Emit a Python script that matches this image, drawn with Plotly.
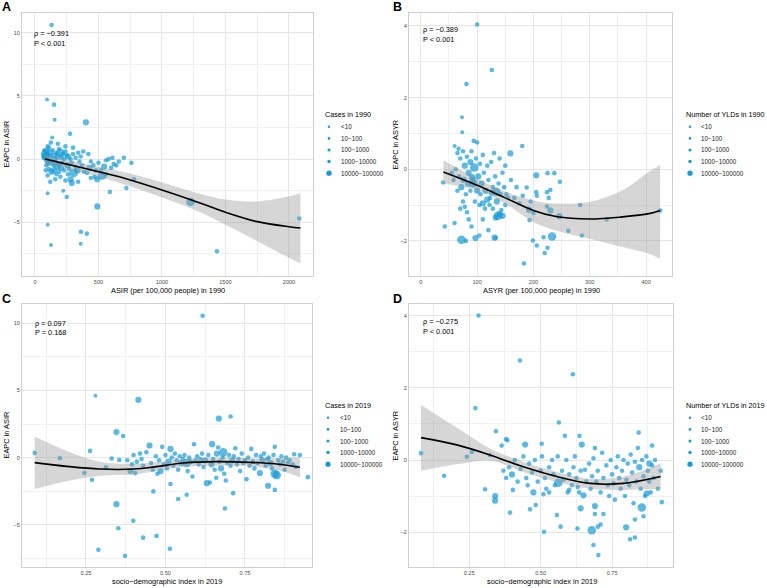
import plotly.graph_objects as go

W, H = 767, 588
PT = "#159BD5"
FONT = "Liberation Sans, Arial, sans-serif"

# ---------------- Panel A: ASIR 1990 vs EAPC ----------------
a_x = [131,95,150,155,401,136,276,
       80,85,90,100,110,120,130,140,150,160,170,180,190,200,210,220,230,240,250,260,280,300,320,340,360,380,300,240,180,125,100,75,70,
       95,110,125,145,160,175,190,205,215,230,255,270,290,305,320,335,350,370,385,110,130,150,170,190,160,200,260,280,290,340,90,100,85,120,240,
       420,440,430,460,480,490,470,500,520,530,545,560,580,600,610,620,640,660,700,760,780,720,590,410,440,560,
       100,100,126,362,360,409,491,250,223,1225,1433,2081]
a_y = [10.6,4.7,4.3,3.1,2.9,1.7,2.0,
       0.4,0.2,0.6,0.3,0.9,0.5,0.1,0.7,0.3,0.0,0.5,0.2,0.8,0.5,0.1,0.4,0.0,0.6,0.3,0.2,0.0,0.4,0.1,0.5,0.2,0.6,0.9,1.0,1.2,1.3,1.0,0.7,0.1,
       -0.1,-0.3,-0.2,-0.5,-0.3,-0.6,-0.4,-0.7,-0.3,-0.9,-0.5,-0.8,-0.3,-1.1,-0.6,-0.9,-0.2,-0.5,-1.0,-0.8,-1.0,-0.9,-1.2,-1.0,-1.6,-1.4,-1.2,-1.6,-1.9,-1.8,-0.5,-1.3,-0.9,-1.8,-1.7,
       0.4,-0.2,-0.7,-0.5,-0.9,-1.6,-1.4,-0.3,-0.9,-1.3,-0.6,-0.1,0.0,-0.7,0.1,-0.4,-0.5,-0.2,0.1,-0.3,-1.6,-2.3,-2.6,-1.1,-1.5,-1.2,
       -2.7,-5.2,-6.8,-5.75,-6.7,-5.9,-3.75,-3.0,-2.5,-3.4,-7.3,-4.7]
a_s = [3,2,3,2,4,2,3,
       5,5,4,4,3,4,3,3,4,3,3,4,3,5,3,3,3,3,3,4,3,3,3,3,3,3,3,3,3,3,3,3,3,
       4,4,3,3,4,4,3,4,3,3,4,3,3,5,3,4,3,3,3,3,4,4,3,3,3,3,3,4,4,3,3,3,3,3,3,
       3,3,4,3,3,4,3,3,3,5,4,3,3,3,3,3,3,3,3,3,3,3,3,3,3,3,
       2,2,2,3,2,3,4,3,2,5,3,3]
a_fit_x = [79, 250, 500, 750, 1000, 1250, 1500, 1750, 2000, 2090]
a_fit = [0.0, -0.4, -1.0, -1.65, -2.45, -3.3, -4.2, -4.95, -5.35, -5.45]
a_lo = [-0.35, -0.75, -1.4, -2.15, -3.05, -4.0, -5.2, -6.5, -7.8, -8.25]
a_hi = [0.35, -0.05, -0.6, -1.15, -1.85, -2.6, -3.2, -3.35, -2.95, -2.7]

# ---------------- Panel B: ASYR 1990 vs EAPC ----------------
b_x = [100,126,81,73,73.5,94,100,60,180,67,159,
       65,70,75,78,82,85,88,90,92,95,98,102,105,108,110,112,115,118,120,123,125,128,130,132,135,138,140,142,145,148,150,
       55,58,62,68,72,76,80,84,88,93,91,96,100,104,106,110,114,118,122,126,134,128,137,140,133,145,150,155,
       75,78,82,70,65,85,90,110,120,
       39.5,42.5,72,80,97,104,131,133,60,
       152,166,175,181,188,192,200,205,205,206,224,230,227,225,237,247,224,230,246,193,283,262,286,330,233,218,199,206,225,220,183,143,160,170,195,425]
b_y = [4.04,2.77,2.38,1.45,1.03,0.79,0.75,0.65,0.65,0.57,0.44,
       0.45,0.3,0.5,0.1,0.35,-0.1,0.2,0.5,-0.3,0.05,0.3,-0.2,0.15,-0.4,0.4,-0.1,-0.6,0.1,-0.3,-0.8,0.2,-0.5,0.45,-0.2,-0.9,-0.4,0.3,-0.7,-0.1,-0.5,0.1,
       -0.1,-0.3,0.0,-0.2,-0.5,-0.3,-0.7,-0.4,-0.6,-0.4,-0.22,-0.9,-0.6,-1.0,-0.7,-0.95,-1.1,-0.85,-1.0,-0.65,-0.63,-1.1,-1.3,-1.25,-1.35,-1.3,-1.0,-0.8,
       -0.9,-1.05,-1.2,-1.1,-0.6,-1.4,-1.6,-1.4,-1.7,
       -0.37,-1.6,-1.97,-2.0,-1.92,-1.85,-1.91,-1.92,-1.5,
       -0.7,-0.8,-0.95,-0.74,-0.51,-1.13,-1.22,-0.17,-0.64,-0.74,-0.64,-0.58,-0.8,-0.11,-0.11,-0.35,-1.04,-1.15,-1.31,-1.42,-1.0,-1.72,-1.85,-1.4,-1.88,-1.9,-1.99,-2.13,-2.19,-2.34,-2.63,-1.14,-0.3,-0.5,-0.9,-1.15]
b_s = [3,3,3,2,2,3,3,2,3,3,4,
       3,3,3,4,3,4,4,3,4,5,3,4,3,4,3,3,4,3,3,3,3,3,3,3,4,3,3,3,3,3,3,
       3,3,3,3,4,4,3,4,3,5,4,3,4,3,3,4,3,4,3,4,5,3,5,4,4,4,3,3,
       3,3,3,3,3,3,3,3,3,
       3,3,5,3,4,3,4,3,3,
       3,3,3,3,3,4,3,4,3,3,3,3,3,3,3,3,3,4,4,3,3,3,3,3,5,3,3,3,3,3,3,3,3,3,3,3]
b_fit_x = [40, 100, 150, 200, 240, 300, 358, 405, 425]
b_fit = [-0.08, -0.45, -0.8, -1.15, -1.32, -1.39, -1.33, -1.24, -1.15]
b_lo = [-0.4, -0.59, -0.96, -1.47, -1.71, -1.94, -2.17, -2.36, -2.5]
b_hi = [0.25, -0.26, -0.63, -0.87, -0.96, -0.91, -0.59, -0.07, 0.11]

# ---------------- Panel C: SDI 2019 vs EAPC in ASIR ----------------
c_x = [0.617,0.28,0.415,0.668,0.705,0.346,0.367,
       0.089,0.168,0.245,0.263,0.269,0.313,0.331,0.355,
       0.346,0.352,0.399,0.373,0.289,0.43,0.472,0.514,
       0.462,0.516,0.54,0.567,0.713,0.687,0.823,0.844,
       0.38,0.39,0.395,0.40,0.405,0.41,0.42,0.425,0.43,0.44,0.45,0.455,0.46,0.47,0.475,0.48,0.485,0.49,0.495,0.50,
       0.505,0.51,0.516,0.52,0.525,0.53,0.535,0.54,0.545,0.55,0.555,0.56,0.567,0.57,0.575,0.58,0.585,0.59,0.595,0.60,
       0.605,0.61,0.615,0.62,0.625,0.63,0.635,0.64,0.645,0.647,0.65,0.655,0.66,0.662,0.666,0.67,0.675,0.68,0.682,0.685,
       0.69,0.695,0.70,0.705,0.71,0.715,0.72,0.725,0.73,0.735,0.74,0.745,0.75,0.755,0.76,0.765,0.77,0.775,0.78,0.785,
       0.79,0.797,0.80,0.805,0.81,0.815,0.82,0.825,0.83,0.835,0.84,0.844,0.844,0.85,0.855,0.86,0.865,0.87,0.875,0.88,
       0.885,0.89,0.90,0.905,0.91,0.923,0.948]
c_y = [10.55,4.6,4.3,2.9,3.06,1.9,1.6,
       0.35,-0.05,-1.14,0.5,-1.64,-0.72,-0.07,-0.17,
       -3.46,-5.25,-4.7,-7.3,-6.85,-5.95,-5.82,-6.77,
       -2.51,-1.96,-3.08,-2.76,-2.64,-3.78,-2.09,-2.4,
       -0.2,-1.0,-0.5,0.2,-1.15,-0.3,0.3,-0.1,-0.6,0.4,0.9,-0.4,-0.9,0.1,-1.2,-0.2,-1.0,0.8,-0.5,0.2,
       -0.8,-0.3,0.65,0.0,-0.6,0.3,-0.2,-0.9,0.1,-0.4,-0.1,0.2,-0.4,-1.0,0.0,-0.3,-1.4,1.0,-0.2,0.1,
       -0.5,-0.1,0.3,-0.7,-0.2,-1.9,0.2,-1.85,-0.5,1.0,-0.1,-0.9,-1.5,0.3,0.75,-0.3,-0.8,0.0,0.4,-1.2,
       -1.7,-0.4,0.2,-0.6,-0.2,0.1,0.7,-0.5,-0.1,-1.0,0.3,-0.4,-0.2,-1.6,0.0,-0.6,0.65,-0.3,-0.8,0.2,
       -0.4,-1.15,0.1,-0.2,0.3,-0.6,-0.1,0.0,-0.4,-0.8,0.2,0.8,-1.2,-1.3,-0.2,-0.5,0.1,-0.3,-0.9,0.0,
       -0.4,-0.2,-0.5,0.25,-0.7,0.2,-1.45]
c_s = [3,2,4,4,3,4,3,
       3,3,3,3,3,3,3,3,
       4,3,3,3,3,3,3,3,
       3,3,3,3,3,3,4,3,
       3,4,3,3,3,3,3,3,3,3,4,3,3,3,3,3,4,3,3,3,
       3,4,4,3,3,3,3,3,3,4,3,3,5,3,3,3,3,3,3,3,
       3,3,3,3,4,4,3,3,4,4,3,3,3,4,3,3,4,3,5,3,
       3,3,3,3,4,3,3,3,3,3,3,3,3,3,3,3,3,3,3,3,
       3,4,3,4,3,3,3,3,4,3,3,3,5,5,3,3,3,3,3,3,
       3,3,3,3,3,3,3]
c_fit_x = [0.089, 0.19, 0.294, 0.4, 0.472, 0.556, 0.661, 0.766, 0.85, 0.923]
c_fit = [-0.37, -0.65, -0.85, -0.85, -0.67, -0.40, -0.30, -0.35, -0.47, -0.72]
c_lo = [-2.34, -1.75, -1.35, -1.25, -1.0, -0.7, -0.6, -0.65, -0.9, -1.45]
c_hi = [1.57, 0.5, -0.3, -0.45, -0.35, -0.1, 0.0, -0.05, -0.05, 0.02]

# ---------------- Panel D: SDI 2019 vs EAPC in ASYR ----------------
d_x = [0.283,0.428,0.613,0.272,0.344,0.564,0.585,0.636,0.843,0.379,
       0.082,0.163,0.242,0.26,0.323,0.306,0.341,0.341,0.393,0.403,0.364,0.384,0.446,0.504,0.512,0.562,0.557,0.57,0.629,0.679,
       0.685,0.702,0.644,0.69,0.799,0.813,0.83,0.854,0.871,0.924,0.86,0.83,0.64,0.65,0.635,0.69,0.72,0.71,0.70,0.69,
       0.463,0.483,0.475,0.51,0.53,0.60,0.84,0.89,0.88,
       0.37,0.38,0.39,0.40,0.41,0.42,0.43,0.44,0.45,0.455,0.46,0.47,0.48,0.49,0.50,0.505,0.515,0.52,0.53,0.54,
       0.545,0.55,0.56,0.575,0.58,0.59,0.595,0.60,0.61,0.615,0.62,0.625,0.63,0.64,0.655,0.66,0.67,0.675,0.68,0.685,
       0.695,0.70,0.71,0.715,0.72,0.73,0.735,0.74,0.745,0.75,0.755,0.76,0.765,0.77,0.775,0.78,0.785,0.79,0.795,0.80,
       0.805,0.81,0.815,0.82,0.825,0.83,0.835,0.845,0.85,0.855,0.86,0.865,0.87,0.875,0.88,0.885,0.89,0.895,0.90,0.91,0.92]
d_y = [4.01,2.76,2.38,1.44,0.8,1.04,0.67,0.67,0.76,0.58,
       0.19,-0.44,0.09,0.22,0.14,-0.81,-1.0,-1.13,-1.46,-0.83,0.4,0.55,0.43,0.45,-1.99,-0.63,-1.53,-1.85,-1.9,-1.95,
       -2.36,-2.64,0.43,0.33,-1.87,-2.2,-2.15,-1.32,-0.93,-1.17,-1.56,-1.65,-1.34,-0.98,-0.9,-1.28,-1.5,-1.79,-1.85,-1.5,
       -1.37,-1.25,-0.9,-0.95,-0.9,-0.83,0.33,0.4,-0.1,
       -0.3,-0.5,-0.2,-0.4,0.0,-0.6,-0.25,0.1,-0.5,-0.7,-0.1,-0.35,0.0,-0.6,-0.3,0.1,-0.5,-0.8,-0.2,0.0,
       -0.4,-0.7,0.1,-0.3,-0.55,0.0,-0.9,-0.4,-0.7,-0.2,0.1,-0.5,-0.75,-0.3,-0.27,-0.6,-0.1,-0.8,-0.45,0.05,
       -0.6,-0.3,-0.9,0.2,-0.5,-0.15,-0.7,-1.0,0.0,-0.4,-0.65,-1.1,-0.2,0.1,-0.5,-0.8,-0.3,0.0,-1.0,-0.55,
       -0.1,-0.7,0.15,-0.35,-1.2,-0.05,-0.6,-0.2,-0.8,0.0,-0.45,-1.0,0.1,-0.3,-0.6,-0.9,-0.15,-0.5,0.0,-0.8,-0.3]
d_s = [3,3,3,3,3,3,3,3,3,3,
       3,3,3,3,3,3,4,4,3,3,3,3,4,3,3,5,3,3,3,5,
       3,3,4,3,4,3,3,5,4,3,3,3,4,4,3,4,3,3,3,3,
       3,3,4,3,3,3,3,3,4,
       3,3,3,4,3,3,3,3,3,3,3,3,3,3,3,3,3,3,3,3,
       3,3,3,3,3,3,3,3,3,3,3,3,3,3,3,3,3,3,3,3,
       3,3,3,3,3,3,3,3,3,3,3,3,3,3,3,3,3,3,3,3,
       3,3,3,3,3,3,3,4,3,3,3,3,3,3,3,3,3,3,3,3,3]
d_fit_x = [0.082, 0.207, 0.323, 0.44, 0.557, 0.673, 0.79, 0.92]
d_fit = [0.62, 0.42, 0.14, -0.19, -0.46, -0.65, -0.65, -0.46]
d_lo = [-0.3, -0.12, -0.02, -0.33, -0.61, -0.8, -0.83, -0.8]
d_hi = [1.53, 0.9, 0.32, -0.05, -0.33, -0.52, -0.46, -0.09]

size_labels = ["<10", "10\u2212100", "100\u22121000", "1000\u221210000", "10000\u2212100000"]
legend_titles = ["Cases in 1990", "Number of YLDs in 1990", "Cases in 2019", "Number of YLDs in 2019"]
stats = [("\u03c1 = \u22120.391", "P < 0.001"), ("\u03c1 = \u22120.389", "P < 0.001"),
         ("\u03c1 = 0.097", "P = 0.168"), ("\u03c1 = \u22120.275", "P < 0.001")]
x_titles = ["ASIR (per 100,000 people) in 1990", "ASYR (per 100,000 people) in 1990",
            "socio\u2212demographic index in 2019", "socio\u2212demographic index in 2019"]
y_titles = ["EAPC in ASIR", "EAPC in ASYR", "EAPC in ASIR", "EAPC in ASYR"]
letters = ["A", "B", "C", "D"]

SIZE_PX = {1: 3.5, 2: 4, 3: 4.6, 4: 6.2, 5: 8.5}
LEG_PX = [2.4, 2.7, 3.1, 3.5, 5.2]

panels = [
    (a_x, a_y, a_s, a_fit_x, a_fit, a_lo, a_hi),
    (b_x, b_y, b_s, b_fit_x, b_fit, b_lo, b_hi),
    (c_x, c_y, c_s, c_fit_x, c_fit, c_lo, c_hi),
    (d_x, d_y, d_s, d_fit_x, d_fit, d_lo, d_hi),
]

fig = go.Figure()
for i, (xs, ys, ss, fx, fy, lo, hi) in enumerate(panels):
    xa = "x" if i == 0 else f"x{i+1}"
    ya = "y" if i == 0 else f"y{i+1}"
    fig.add_trace(go.Scatter(x=xs, y=ys, mode="markers", xaxis=xa, yaxis=ya,
                             marker=dict(color=PT, size=[SIZE_PX[s] for s in ss], line=dict(width=0)),
                             showlegend=False, hoverinfo="skip"))
    fig.add_trace(go.Scatter(x=fx, y=lo, mode="lines", xaxis=xa, yaxis=ya,
                             line=dict(width=0, shape="spline"), showlegend=False, hoverinfo="skip"))
    fig.add_trace(go.Scatter(x=fx, y=hi, mode="lines", xaxis=xa, yaxis=ya, fill="tonexty",
                             fillcolor="rgba(153,153,153,0.4)",
                             line=dict(width=0, shape="spline"), showlegend=False, hoverinfo="skip"))
    fig.add_trace(go.Scatter(x=fx, y=fy, mode="lines", xaxis=xa, yaxis=ya,
                             line=dict(color="black", width=1.6, shape="spline"),
                             showlegend=False, hoverinfo="skip"))

# layout geometry (pixels)
xdom = [(22, 313), (409, 672), (22, 312), (409, 673)]
ydom = [(13, 276), (13, 276), (304, 567), (304, 567)]
xranges = [[-102, 2189], [-21, 446], [0.049, 0.961], [0.04, 0.963]]
yranges = [[-9.25, 11.55], [-2.98, 4.36], [-8.13, 11.42], [-2.97, 4.33]]
xdt = [(0, 500, 250, None), (0, 100, 50, None), (0, 0.25, 0.125, ".2f"), (0, 0.25, 0.125, ".2f")]
ydt = [(5, 2.5), (2, 1), (5, 2.5), (2, 1)]

GRID = "#E6E6E6"
MINOR = "#F1F1F1"
BORDER = "#CFCFCF"
TICKF = dict(family=FONT, size=5.6, color="#4D4D4D")

lay = {}
for i in range(4):
    kx = "xaxis" if i == 0 else f"xaxis{i+1}"
    ky = "yaxis" if i == 0 else f"yaxis{i+1}"
    t0, dt, mdt, fmt = xdt[i]
    xax = dict(domain=[xdom[i][0] / W, xdom[i][1] / W], range=xranges[i],
               anchor="y" if i == 0 else f"y{i+1}",
               tick0=t0, dtick=dt, showgrid=True, gridcolor=GRID, gridwidth=0.8,
               minor=dict(tick0=t0, dtick=mdt, showgrid=True, gridcolor=MINOR, gridwidth=0.6),
               zeroline=False, showline=True, mirror=True, linecolor=BORDER, linewidth=1,
               ticks="", tickfont=TICKF)
    if fmt:
        xax["tickformat"] = fmt
    lay[kx] = xax
    lay[ky] = dict(domain=[1 - ydom[i][1] / H, 1 - ydom[i][0] / H], range=yranges[i],
                   anchor="x" if i == 0 else f"x{i+1}",
                   tick0=0, dtick=ydt[i][0], showgrid=True, gridcolor=GRID, gridwidth=0.8,
                   minor=dict(tick0=0, dtick=ydt[i][1], showgrid=True, gridcolor=MINOR, gridwidth=0.6),
                   zeroline=False, showline=True, mirror=True, linecolor=BORDER, linewidth=1,
                   ticks="", tickfont=TICKF)

annotations = []
shapes = []

def ann(text, x, y, size, xanchor="center", yanchor="middle", angle=0, bold=False, color="black"):
    annotations.append(dict(text=f"<b>{text}</b>" if bold else text, x=x / W, y=1 - y / H,
                            xref="paper", yref="paper", xanchor=xanchor, yanchor=yanchor,
                            showarrow=False, textangle=angle,
                            font=dict(family=FONT, size=size, color=color)))

letter_pos = [(7, 7.5), (397, 7.5), (7, 299), (397, 299)]
stat_pos = [(32, 33.3, 43.3), (420.7, 30, 40), (32.7, 323.7, 332.7), (420.7, 321.7, 331.7)]
xt_pos = [(167.5, 290.5), (541, 290.5), (167, 581.2), (541.5, 581.2)]
yt_pos = [(6, 144.5), (395, 144.5), (6, 435.5), (395, 435.5)]
leg_pos = [(323, 114, 329, 339), (684, 114, 690, 699), (323, 405, 328, 338), (684, 405, 690, 699)]

for i in range(4):
    ann(letters[i], *letter_pos[i], 12.5, bold=True)
    sx, sy1, sy2 = stat_pos[i]
    ann(stats[i][0], sx, sy1, 7.3, xanchor="left")
    ann(stats[i][1], sx, sy2, 7.3, xanchor="left")
    ann(x_titles[i], *xt_pos[i], 7.4)
    ann(y_titles[i], *yt_pos[i], 7.4, angle=-90)
    tx, ty, dx, lx = leg_pos[i]
    ann(legend_titles[i], tx, ty, 7.2, xanchor="left")
    for k, lab in enumerate(size_labels):
        yy = ty + 12.8 + 11.6 * k
        r = LEG_PX[k] / 2
        shapes.append(dict(type="circle", xref="paper", yref="paper",
                           x0=(dx - r) / W, x1=(dx + r) / W, y0=1 - (yy + r) / H, y1=1 - (yy - r) / H,
                           fillcolor=PT, line=dict(width=0)))
        ann(lab, lx, yy, 6.3, xanchor="left", color="#1A1A1A")

fig.update_layout(width=W, height=H, margin=dict(l=0, r=0, t=0, b=0),
                  paper_bgcolor="white", plot_bgcolor="white", showlegend=False,
                  annotations=annotations, shapes=shapes, **lay)

fig.write_html("out.html", config={"displayModeBar": False},
               post_script="document.body.style.margin='0';document.body.style.overflow='hidden';")
